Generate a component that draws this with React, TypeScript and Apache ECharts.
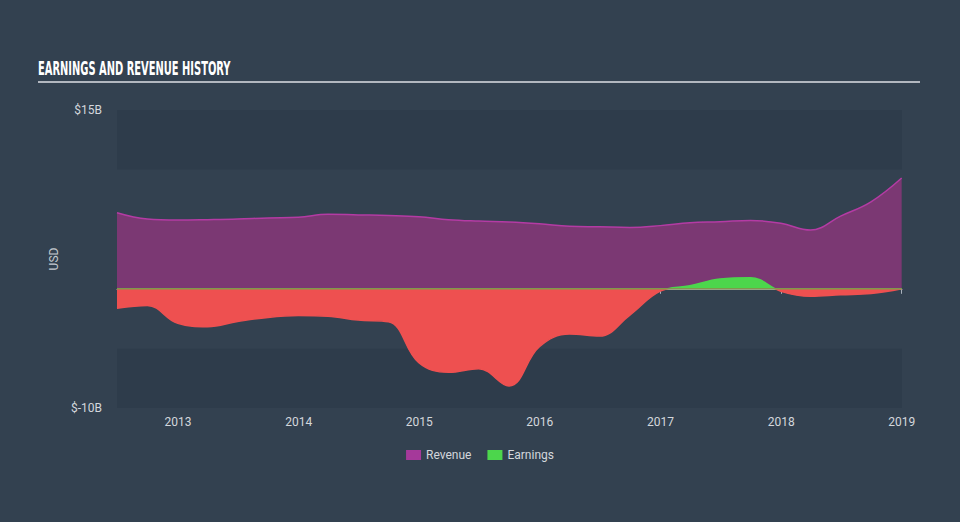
import React, { useEffect, useRef } from "react";
import * as echarts from "echarts";

const dates = [
  "2012-06-30", "2012-09-30", "2012-12-31", "2013-03-31", "2013-06-30", "2013-09-30",
  "2013-12-31", "2014-03-31", "2014-06-30", "2014-09-30", "2014-12-31", "2015-03-31",
  "2015-06-30", "2015-09-30", "2015-12-31", "2016-03-31", "2016-06-30", "2016-09-30",
  "2016-12-31", "2017-03-31", "2017-06-30", "2017-09-30", "2017-12-31", "2018-03-31",
  "2018-06-30", "2018-09-30", "2019-01-01",
];
const revenue = [
  6.38, 5.85, 5.77, 5.8, 5.85, 5.95,
  6.0, 6.25, 6.2, 6.15, 6.05, 5.8,
  5.68, 5.6, 5.45, 5.25, 5.2, 5.15,
  5.3, 5.55, 5.62, 5.74, 5.5, 4.93,
  6.1, 7.3, 9.3,
];
const earnings = [
  -1.64, -1.4, -2.9, -3.18, -2.75, -2.4,
  -2.25, -2.3, -2.62, -2.76, -6.2, -7.0,
  -6.7, -8.15, -4.86, -3.8, -3.96, -2.2,
  -0.2, 0.25, 0.82, 0.93, -0.2, -0.62,
  -0.5, -0.4, 0.0,
];
const yMin = -10;
const yMax = 15;
const yLabels: Record<number, string> = { 15: "$15B", [-10]: "$-10B" };

export default function App() {
  const ref = useRef<HTMLDivElement>(null);
  useEffect(() => {
    if (!ref.current) return;
    const chart = echarts.init(ref.current, undefined, { renderer: "svg" });
    const toTs = (d: string) => new Date(d + "T00:00:00Z").getTime();
    const revData = dates.map((d, i) => [toTs(d), revenue[i]]);
    const earnData = dates.map((d, i) => [toTs(d), earnings[i]]);
    const zeroData = [[toTs(dates[0]), 0], [toTs(dates[dates.length - 1]), 0]];
    chart.setOption({
      animation: false,
      backgroundColor: "#334150",
      textStyle: { fontFamily: "Roboto, 'Noto Sans', sans-serif" },
      graphic: [
        {
          type: "text",
          left: 38,
          top: 59,
          scaleX: 0.58,
          style: {
            text: "EARNINGS AND REVENUE HISTORY",
            fill: "#ffffff",
            font: "bold 19px 'Liberation Sans Narrow', 'DejaVu Sans Condensed', sans-serif",
          },
        },
        {
          type: "line",
          shape: { x1: 38, y1: 82, x2: 920, y2: 82 },
          style: { stroke: "#b2b7bf", lineWidth: 2 },
        },
      ],
      grid: { left: 117, right: 58, top: 110, bottom: 114 },
      legend: {
        bottom: 56,
        left: "center",
        icon: "rect",
        itemWidth: 15,
        itemHeight: 10,
        itemGap: 16,
        textStyle: { color: "#d3d7dc", fontSize: 12 },
        data: [
          { name: "Revenue", itemStyle: { color: "#a5399a" } },
          { name: "Earnings", itemStyle: { color: "#4cd64c" } },
        ],
      },
      visualMap: {
        show: false,
        seriesIndex: 1,
        dimension: 1,
        pieces: [
          { gte: -50, lt: 0, color: "#ee5050" },
          { gte: 0, lte: 50, color: "#4cd64c" },
        ],
      },
      xAxis: {
        type: "time",
        min: toTs("2012-06-30"),
        max: toTs("2019-01-02"),
        splitNumber: 7,
        axisLine: { show: true, lineStyle: { color: "#aab2bd", width: 1 } },
        axisTick: { show: true, length: 5, lineStyle: { color: "#aab2bd" } },
        splitLine: { show: false },
        axisLabel: {
          color: "#d3d7dc",
          fontSize: 12,
          margin: 8,
          formatter: (v: number) => String(new Date(v).getUTCFullYear()),
        },
      },
      yAxis: {
        type: "value",
        min: yMin,
        max: yMax,
        interval: 5,
        name: "USD",
        nameLocation: "middle",
        nameGap: 42,
        nameTextStyle: { color: "#c5c9cf", fontSize: 12 },
        axisLine: { show: false },
        axisTick: { show: false },
        splitLine: { show: false },
        splitArea: {
          show: true,
          areaStyle: { color: ["#2e3c4b", "#334150", "#334150", "#334150", "#2e3c4b"] },
        },
        axisLabel: {
          color: "#d3d7dc",
          fontSize: 12,
          margin: 15,
          formatter: (v: number) => yLabels[v] ?? "",
        },
      },
      series: [
        {
          name: "Revenue",
          type: "line",
          smooth: 0.4,
          showSymbol: false,
          data: revData,
          itemStyle: { color: "#a5399a" },
          lineStyle: { color: "#b43ba4", width: 1.5 },
          areaStyle: { color: "#7b3873", opacity: 1 },
        },
        {
          name: "Earnings",
          type: "line",
          smooth: 0.4,
          showSymbol: false,
          data: earnData,
          itemStyle: { color: "#4cd64c" },
          lineStyle: { width: 1.5 },
          areaStyle: { opacity: 1 },
        },
        {
          name: "zero",
          type: "line",
          showSymbol: false,
          silent: true,
          data: zeroData,
          lineStyle: { color: "#7e9a4c", width: 1.5 },
          itemStyle: { color: "#7e9a4c" },
        },
      ],
    });
    return () => chart.dispose();
  }, []);
  return <div ref={ref} style={{ width: 960, height: 522, position: "absolute", left: 0, top: 0 }} />;
}
